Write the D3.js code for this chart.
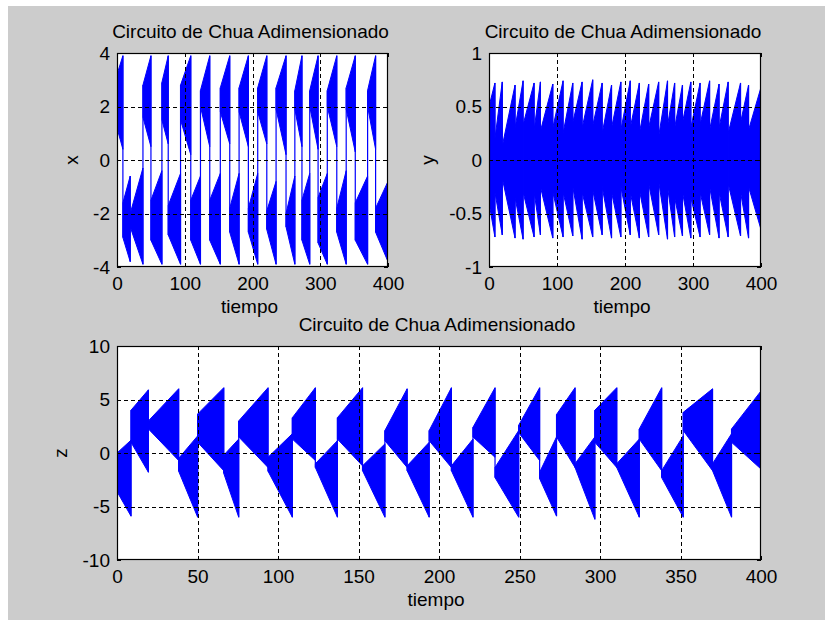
<!DOCTYPE html>
<html>
<head>
<meta charset="utf-8">
<script src="https://cdn.jsdelivr.net/npm/d3@7"></script>
<style>
  html, body { margin: 0; padding: 0; background: #ffffff; }
  svg { display: block; font-family: "Liberation Sans", Arial, sans-serif; }
</style>
</head>
<body>
<svg id="fig" width="825" height="623"></svg>
<script>
// Oscillation episodes of the dimensionless Chua circuit (time windows)
const tStart = [0, 8.7, 19.5, 38.3, 50.1, 66.3, 75.6, 93.8, 108.9, 123.2, 136.9, 152.5, 166.4, 180.2, 193.9,
                207.7, 221.1, 234.8, 249.5, 262.5, 273.0, 284.5, 296.8, 310.4, 324.4, 338.3, 351.7, 369.9, 381.7];
const tEnd   = [8.7, 19.5, 38.3, 50.1, 66.3, 75.6, 93.8, 108.9, 123.2, 136.9, 152.5, 166.4, 180.2, 193.9, 207.7,
                221.1, 234.8, 249.5, 262.5, 273.0, 284.5, 296.8, 310.4, 324.4, 338.3, 351.7, 369.9, 381.7, 400];

// x(t): lower / upper envelope at the start and at the end of each episode
const xLoStart = [1.2, -2.9, -2.5, 1.6, -3.0, 1.5, -2.8, 1.5, -3.0, 2.0, -3.0, 1.8, -2.7, 1.8, -2.7,
                  1.8, -2.6, 1.9, -2.5, 1.9, -3.0, 2.0, -3.1, 2.0, -2.7, 1.9, -3.0, 2.0, -2.7];
const xHiStart = [3.2, -1.6, -2.0, 2.8, -1.5, 2.9, -1.7, 2.8, -1.5, 2.6, -1.5, 2.7, -1.8, 2.7, -1.8,
                  2.7, -1.9, 2.7, -2.0, 2.6, -1.5, 2.6, -1.4, 2.6, -1.8, 2.7, -1.6, 2.6, -1.8];
const xLoEnd   = [0.4, -3.8, -3.9, 0.5, -3.9, 0.6, -3.9, 0.2, -3.9, 0.5, -3.9, 0.6, -3.9, 0.5, -3.9,
                  0.6, -3.9, 0.2, -3.9, 0.5, -3.9, 0.4, -3.9, 0.5, -3.9, 0.3, -3.9, 0.4, -3.8];
const xHiEnd   = [3.9, -0.6, -0.3, 3.9, -0.4, 3.9, -0.5, 3.9, -0.6, 3.9, -0.5, 3.9, -0.5, 3.9, -0.5,
                  3.9, -0.8, 3.9, -0.6, 3.9, -0.5, 3.9, -0.5, 3.9, -0.4, 3.9, -0.6, 3.9, -0.8];

// y(t)
const yLoStart = [-0.40, -0.30, -0.17, -0.35, -0.30, -0.30, -0.25, -0.30, -0.30, -0.25, -0.30, -0.28, -0.25, -0.30, -0.25,
                  -0.30, -0.28, -0.22, -0.20, -0.25, -0.35, -0.30, -0.35, -0.30, -0.25, -0.30, -0.22, -0.30, -0.25];
const yHiStart = [0.50, 0.20, 0.13, 0.30, 0.33, 0.28, 0.27, 0.30, 0.25, 0.35, 0.30, 0.32, 0.25, 0.30, 0.28,
                  0.30, 0.25, 0.30, 0.22, 0.32, 0.30, 0.35, 0.30, 0.33, 0.28, 0.30, 0.25, 0.35, 0.28];
const yLoEnd   = [-0.72, -0.70, -0.73, -0.74, -0.72, -0.70, -0.73, -0.72, -0.71, -0.74, -0.72, -0.70, -0.73, -0.72, -0.70,
                  -0.73, -0.72, -0.70, -0.74, -0.72, -0.71, -0.73, -0.72, -0.70, -0.73, -0.72, -0.71, -0.73, -0.65];
const yHiEnd   = [0.72, 0.73, 0.70, 0.74, 0.72, 0.73, 0.71, 0.74, 0.72, 0.73, 0.75, 0.72, 0.70, 0.73, 0.74,
                  0.72, 0.71, 0.73, 0.74, 0.72, 0.70, 0.73, 0.72, 0.74, 0.71, 0.73, 0.72, 0.70, 0.68];

// z(t)
const zLoStart = [-3.6, 1.0, 2.25, -1.7, 1.0, -1.9, 1.5, -1.7, 1.3, -1.35, 1.3, -1.65, 1.15, -1.65, 1.15,
                  -1.65, 1.5, -2.3, 1.9, -2.4, 1.5, -1.35, 1.0, -1.35, 1.3, -2.3, 2.1, -1.65, 1.0];
const zHiStart = [0.0, 4.0, 3.0, -0.5, 3.65, -0.2, 3.0, -0.4, 3.3, -1.0, 3.3, -1.2, 2.1, -1.2, 2.1,
                  -1.2, 2.4, -1.35, 2.6, -1.8, 3.6, -1.0, 4.0, -1.0, 2.25, -1.65, 3.8, -1.0, 2.25];
const zLoEnd   = [-5.9, -1.8, -0.7, -6.0, -1.65, -6.0, -1.35, -6.0, -0.7, -6.0, -1.2, -6.0, -1.35, -6.0, -1.35,
                  -6.0, -0.4, -6.0, -0.7, -5.9, -1.35, -6.2, -1.35, -6.0, -1.65, -6.0, -1.65, -6.0, -1.5];
const zHiEnd   = [1.2, 5.9, 6.0, 1.6, 6.1, 1.3, 6.1, 1.8, 6.1, 1.15, 6.1, 0.85, 6.0, 1.0, 6.1,
                  1.3, 6.1, 2.1, 6.1, 1.5, 6.1, 1.5, 6.1, 1.3, 6.1, 1.6, 6.0, 1.8, 5.8];

// Axis ticks
const tTicksTop = [0, 100, 200, 300, 400];
const tTicksBottom = [0, 50, 100, 150, 200, 250, 300, 350, 400];
const xTicks = [-4, -2, 0, 2, 4];
const yTicks = [-1, -0.5, 0, 0.5, 1];
const zTicks = [-10, -5, 0, 5, 10];

const titleText = "Circuito de Chua Adimensionado";
const timeLabel = "tiempo";

const FONT = 19;
const BLUE = "#0000ff";
const svg = d3.select("#fig");

// figure background
svg.append("rect").attr("x", 8).attr("y", 6).attr("width", 817).attr("height", 614).attr("fill", "#cccccc");

let clipId = 0;
function panel(cfg) {
  const { left, right, top, bottom, yDomain, yTickVals, tTickVals, lo0, hi0, lo1, hi1, yLabel, yLabelX } = cfg;
  const sx = d3.scaleLinear().domain([0, 400]).range([left, right]);
  const sy = d3.scaleLinear().domain(yDomain).range([bottom, top]);
  const g = svg.append("g");

  g.append("rect").attr("x", left).attr("y", top).attr("width", right - left).attr("height", bottom - top).attr("fill", "#ffffff");

  const id = "clip" + (clipId++);
  svg.append("clipPath").attr("id", id).append("rect")
    .attr("x", left).attr("y", top).attr("width", right - left).attr("height", bottom - top);
  const plot = g.append("g").attr("clip-path", `url(#${id})`);

  const eps = tStart.map((t, i) => ({ t0: t, t1: tEnd[i], lo0: lo0[i], hi0: hi0[i], lo1: lo1[i], hi1: hi1[i] }));
  const line = d3.line().x(d => sx(d[0])).y(d => sy(d[1]));

  plot.selectAll("path.ep").data(eps).join("path")
    .attr("class", "ep")
    .attr("d", d => line([[d.t0, d.hi0], [d.t1, d.hi1], [d.t1, d.lo1], [d.t0, d.lo0]]) + "Z")
    .attr("fill", BLUE).attr("stroke", BLUE).attr("stroke-width", 1).attr("stroke-linejoin", "round");

  // jumps between consecutive episodes
  const jumps = eps.slice(0, -1).map((d, i) => ({
    t: d.t1,
    lo: Math.min(d.lo1, lo0[i + 1]),
    hi: Math.max(d.hi1, hi0[i + 1])
  }));
  plot.selectAll("line.jump").data(jumps).join("line")
    .attr("class", "jump")
    .attr("x1", d => sx(d.t)).attr("x2", d => sx(d.t))
    .attr("y1", d => sy(d.lo)).attr("y2", d => sy(d.hi))
    .attr("stroke", BLUE).attr("stroke-width", 1.2);

  // dotted grid
  const gx = g.append("g").attr("transform", `translate(0,${bottom})`)
    .call(d3.axisBottom(sx).tickValues(tTickVals.slice(1, -1)).tickSize(-(bottom - top)).tickFormat(""));
  const gy = g.append("g").attr("transform", `translate(${left},0)`)
    .call(d3.axisLeft(sy).tickValues(yTickVals.slice(1, -1)).tickSize(-(right - left)).tickFormat(""));
  [gx, gy].forEach(a => {
    a.select(".domain").remove();
    a.selectAll("line").attr("stroke", "#000").attr("stroke-width", 1).attr("stroke-dasharray", "4,3")
      .attr("shape-rendering", "crispEdges");
  });

  // axes with inward ticks
  const fmt = d => String(d);
  const ab = g.append("g").attr("transform", `translate(0,${bottom})`)
    .call(d3.axisBottom(sx).tickValues(tTickVals).tickSize(-4).tickPadding(9.5).tickFormat(fmt));
  const at = g.append("g").attr("transform", `translate(0,${top})`)
    .call(d3.axisTop(sx).tickValues(tTickVals).tickSize(-4).tickFormat(""));
  const al = g.append("g").attr("transform", `translate(${left},0)`)
    .call(d3.axisLeft(sy).tickValues(yTickVals).tickSize(-4).tickPadding(7).tickFormat(fmt));
  const ar = g.append("g").attr("transform", `translate(${right},0)`)
    .call(d3.axisRight(sy).tickValues(yTickVals).tickSize(-4).tickFormat(""));
  [ab, at, al, ar].forEach(a => {
    a.select(".domain").remove();
    a.attr("font-size", FONT).attr("font-family", "'Liberation Sans', Arial, sans-serif");
    a.selectAll("line").attr("stroke", "#000").attr("shape-rendering", "crispEdges");
    a.selectAll("text").attr("fill", "#000");
  });

  // frame
  g.append("rect").attr("x", left + 0.5).attr("y", top + 0.5)
    .attr("width", right - left - 1).attr("height", bottom - top - 1)
    .attr("fill", "none").attr("stroke", "#000").attr("stroke-width", 1.2);

  const cx = (left + right) / 2;
  g.append("text").attr("x", cx - 2).attr("y", top - 15).attr("text-anchor", "middle")
    .attr("font-size", FONT).attr("fill", "#000").text(titleText);
  g.append("text").attr("x", cx - 3).attr("y", bottom + 46).attr("text-anchor", "middle")
    .attr("font-size", FONT).attr("fill", "#000").text(timeLabel);
  g.append("text").attr("transform", `translate(${yLabelX},${(top + bottom) / 2}) rotate(-90)`)
    .attr("text-anchor", "middle").attr("font-size", FONT).attr("fill", "#000").text(yLabel);
}

panel({ left: 117, right: 388, top: 53, bottom: 267, yDomain: [-4, 4], yTickVals: xTicks, tTickVals: tTicksTop,
        lo0: xLoStart, hi0: xHiStart, lo1: xLoEnd, hi1: xHiEnd, yLabel: "x", yLabelX: 78 });
panel({ left: 489, right: 761, top: 53, bottom: 267, yDomain: [-1, 1], yTickVals: yTicks, tTickVals: tTicksTop,
        lo0: yLoStart, hi0: yHiStart, lo1: yLoEnd, hi1: yHiEnd, yLabel: "y", yLabelX: 434 });
panel({ left: 117, right: 761, top: 346, bottom: 560, yDomain: [-10, 10], yTickVals: zTicks, tTickVals: tTicksBottom,
        lo0: zLoStart, hi0: zHiStart, lo1: zLoEnd, hi1: zHiEnd, yLabel: "z", yLabelX: 67 });
</script>
</body>
</html>
